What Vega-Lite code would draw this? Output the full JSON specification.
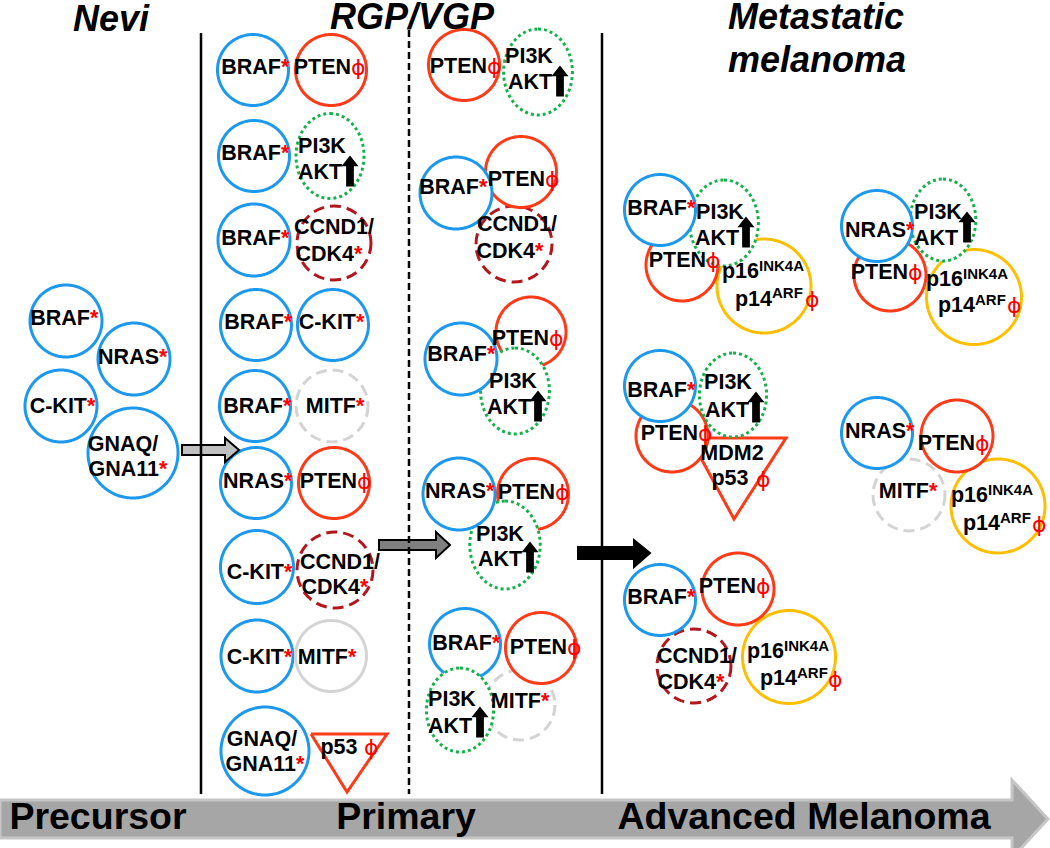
{
  "$schema": "https://vega.github.io/schema/vega-lite/v6.json",
  "width": 1050,
  "height": 848,
  "padding": 0,
  "autosize": "none",
  "background": "white",
  "config": {"view": {"stroke": null}},
  "datasets": {
    "band": [
      {"x": 0, "y": 800, "y2": 838},
      {"x": 1012, "y": 800, "y2": 838},
      {"x": 1012.01, "y": 780, "y2": 858},
      {"x": 1048, "y": 819, "y2": 819}
    ],
    "arrows": [
      {"id": "a1", "kind": "light", "x": 182, "y": 445, "y2": 455},
      {"id": "a1", "kind": "light", "x": 225, "y": 445, "y2": 455},
      {"id": "a1", "kind": "light", "x": 225.01, "y": 438, "y2": 462},
      {"id": "a1", "kind": "light", "x": 239, "y": 450, "y2": 450},
      {"id": "a2", "kind": "dark", "x": 379, "y": 540, "y2": 550},
      {"id": "a2", "kind": "dark", "x": 436, "y": 540, "y2": 550},
      {"id": "a2", "kind": "dark", "x": 436.01, "y": 532, "y2": 558},
      {"id": "a2", "kind": "dark", "x": 450, "y": 545, "y2": 545},
      {"id": "a3", "kind": "black", "x": 578, "y": 547, "y2": 559},
      {"id": "a3", "kind": "black", "x": 634, "y": 547, "y2": 559},
      {"id": "a3", "kind": "black", "x": 634.01, "y": 540, "y2": 567},
      {"id": "a3", "kind": "black", "x": 650, "y": 553, "y2": 553}
    ],
    "rules": [
      {"x": 201, "y": 33, "y2": 794, "kind": "solid"},
      {"x": 409, "y": 30, "y2": 794, "kind": "dash"},
      {"x": 602, "y": 33, "y2": 794, "kind": "solid"}
    ],
    "tris": [
      {"id": "t1", "i": 1, "x": 311, "y": 734},
      {"id": "t1", "i": 2, "x": 387, "y": 734},
      {"id": "t1", "i": 3, "x": 347, "y": 792},
      {"id": "t1", "i": 4, "x": 311, "y": 734},
      {"id": "t2", "i": 1, "x": 690, "y": 438},
      {"id": "t2", "i": 2, "x": 786, "y": 438},
      {"id": "t2", "i": 3, "x": 734, "y": 519},
      {"id": "t2", "i": 4, "x": 690, "y": 438}
    ],
    "circles": [
      {"x": 66, "y": 321, "d": 72, "kind": "blue", "shape": "circle", "z": 1},
      {"x": 134, "y": 359, "d": 72, "kind": "blue", "shape": "circle", "z": 1},
      {"x": 61, "y": 406, "d": 72, "kind": "blue", "shape": "circle", "z": 1},
      {"x": 133, "y": 453, "d": 90, "kind": "blue", "shape": "circle", "z": 1},
      {"x": 253, "y": 70, "d": 71, "kind": "blue", "shape": "circle", "z": 1},
      {"x": 331, "y": 70, "d": 71, "kind": "red", "shape": "circle", "z": 1},
      {"x": 254, "y": 156, "d": 71, "kind": "blue", "shape": "circle", "z": 1},
      {"x": 330, "y": 156, "d": 85, "kind": "green", "shape": "ellipse", "z": 1},
      {"x": 254, "y": 240, "d": 72, "kind": "blue", "shape": "circle", "z": 1},
      {"x": 334, "y": 243, "d": 74, "kind": "ccnd", "shape": "circle", "z": 1},
      {"x": 256, "y": 325, "d": 71, "kind": "blue", "shape": "circle", "z": 1},
      {"x": 333, "y": 325, "d": 71, "kind": "blue", "shape": "circle", "z": 1},
      {"x": 255, "y": 406, "d": 71, "kind": "blue", "shape": "circle", "z": 1},
      {"x": 332, "y": 406, "d": 72, "kind": "mitfdash", "shape": "circle", "z": 1},
      {"x": 256, "y": 483, "d": 71, "kind": "blue", "shape": "circle", "z": 1},
      {"x": 334, "y": 483, "d": 71, "kind": "red", "shape": "circle", "z": 1},
      {"x": 257, "y": 567, "d": 73, "kind": "blue", "shape": "circle", "z": 1},
      {"x": 335, "y": 570, "d": 76, "kind": "ccnd", "shape": "circle", "z": 1},
      {"x": 257, "y": 656, "d": 72, "kind": "blue", "shape": "circle", "z": 1},
      {"x": 331, "y": 656, "d": 71, "kind": "mitf", "shape": "circle", "z": 1},
      {"x": 265, "y": 751, "d": 88, "kind": "blue", "shape": "circle", "z": 1},
      {"x": 464, "y": 65, "d": 71, "kind": "red", "shape": "circle", "z": 1},
      {"x": 538, "y": 72, "d": 86, "kind": "green", "shape": "ellipse", "z": 1},
      {"x": 514, "y": 244, "d": 76, "kind": "ccnd", "shape": "circle", "z": 1},
      {"x": 521, "y": 172, "d": 71, "kind": "red", "shape": "circle", "z": 2},
      {"x": 456, "y": 193, "d": 72, "kind": "blue", "shape": "circle", "z": 3},
      {"x": 531, "y": 332, "d": 70, "kind": "red", "shape": "circle", "z": 1},
      {"x": 515, "y": 391, "d": 86, "kind": "green", "shape": "ellipse", "z": 2},
      {"x": 461, "y": 359, "d": 72, "kind": "blue", "shape": "circle", "z": 3},
      {"x": 533, "y": 494, "d": 71, "kind": "red", "shape": "circle", "z": 1},
      {"x": 505, "y": 545, "d": 88, "kind": "green", "shape": "ellipse", "z": 2},
      {"x": 459, "y": 494, "d": 72, "kind": "blue", "shape": "circle", "z": 3},
      {"x": 520, "y": 705, "d": 70, "kind": "mitfdash", "shape": "circle", "z": 1},
      {"x": 465, "y": 644, "d": 71, "kind": "blue", "shape": "circle", "z": 2},
      {"x": 541, "y": 648, "d": 71, "kind": "red", "shape": "circle", "z": 2},
      {"x": 460, "y": 710, "d": 84, "kind": "green", "shape": "ellipse", "z": 3},
      {"x": 764, "y": 286, "d": 94, "kind": "orange", "shape": "circle", "z": 1},
      {"x": 682, "y": 265, "d": 72, "kind": "red", "shape": "circle", "z": 2},
      {"x": 724, "y": 223, "d": 86, "kind": "green", "shape": "ellipse", "z": 3},
      {"x": 660, "y": 210, "d": 71, "kind": "blue", "shape": "circle", "z": 4},
      {"x": 974, "y": 297, "d": 95, "kind": "orange", "shape": "circle", "z": 1},
      {"x": 890, "y": 275, "d": 72, "kind": "red", "shape": "circle", "z": 2},
      {"x": 943, "y": 220, "d": 82, "kind": "green", "shape": "ellipse", "z": 3},
      {"x": 877, "y": 226, "d": 71, "kind": "blue", "shape": "circle", "z": 4},
      {"x": 672, "y": 436, "d": 72, "kind": "red", "shape": "circle", "z": 2},
      {"x": 733, "y": 395, "d": 84, "kind": "green", "shape": "ellipse", "z": 3},
      {"x": 660, "y": 386, "d": 71, "kind": "blue", "shape": "circle", "z": 4},
      {"x": 909, "y": 495, "d": 72, "kind": "mitfdash", "shape": "circle", "z": 1},
      {"x": 998, "y": 506, "d": 94, "kind": "orange", "shape": "circle", "z": 2},
      {"x": 957, "y": 436, "d": 72, "kind": "red", "shape": "circle", "z": 3},
      {"x": 877, "y": 433, "d": 71, "kind": "blue", "shape": "circle", "z": 4},
      {"x": 694, "y": 666, "d": 74, "kind": "ccnd", "shape": "circle", "z": 1},
      {"x": 789, "y": 657, "d": 93, "kind": "orange", "shape": "circle", "z": 2},
      {"x": 738, "y": 589, "d": 72, "kind": "red", "shape": "circle", "z": 3},
      {"x": 660, "y": 600, "d": 71, "kind": "blue", "shape": "circle", "z": 4}
    ],
    "ups": [
      {"x": 350, "y": 171}, {"x": 560, "y": 81}, {"x": 538, "y": 406},
      {"x": 530, "y": 557}, {"x": 480, "y": 722}, {"x": 746, "y": 232},
      {"x": 967, "y": 227}, {"x": 756, "y": 407}
    ],
    "labels": [
      {"role": "main", "t": "BRAF", "x": 90, "y": 319}, {"role": "star", "t": "*", "x": 90, "y": 319},
      {"role": "main", "t": "NRAS", "x": 159, "y": 358}, {"role": "star", "t": "*", "x": 159, "y": 358},
      {"role": "main", "t": "C-KIT", "x": 87, "y": 407}, {"role": "star", "t": "*", "x": 87, "y": 407},
      {"role": "center", "t": "GNAQ/", "x": 123, "y": 445},
      {"role": "main", "t": "GNA11", "x": 159, "y": 470}, {"role": "star", "t": "*", "x": 159, "y": 470},

      {"role": "main", "t": "BRAF", "x": 281, "y": 68}, {"role": "star", "t": "*", "x": 281, "y": 68},
      {"role": "main", "t": "PTEN", "x": 351, "y": 68}, {"role": "phi", "t": "ϕ", "x": 351, "y": 68},
      {"role": "main", "t": "BRAF", "x": 281, "y": 154}, {"role": "star", "t": "*", "x": 281, "y": 154},
      {"role": "center", "t": "PI3K", "x": 322, "y": 147}, {"role": "center", "t": "AKT", "x": 320, "y": 173},
      {"role": "main", "t": "BRAF", "x": 281, "y": 239}, {"role": "star", "t": "*", "x": 281, "y": 239},
      {"role": "center", "t": "CCND1/", "x": 334, "y": 228},
      {"role": "main", "t": "CDK4", "x": 354, "y": 255}, {"role": "star", "t": "*", "x": 354, "y": 255},
      {"role": "main", "t": "BRAF", "x": 284, "y": 323}, {"role": "star", "t": "*", "x": 284, "y": 323},
      {"role": "main", "t": "C-KIT", "x": 356, "y": 323}, {"role": "star", "t": "*", "x": 356, "y": 323},
      {"role": "main", "t": "BRAF", "x": 283, "y": 407}, {"role": "star", "t": "*", "x": 283, "y": 407},
      {"role": "main", "t": "MITF", "x": 356, "y": 407}, {"role": "star", "t": "*", "x": 356, "y": 407},
      {"role": "main", "t": "NRAS", "x": 284, "y": 482}, {"role": "star", "t": "*", "x": 284, "y": 482},
      {"role": "main", "t": "PTEN", "x": 357, "y": 482}, {"role": "phi", "t": "ϕ", "x": 357, "y": 482},
      {"role": "main", "t": "C-KIT", "x": 284, "y": 573}, {"role": "star", "t": "*", "x": 284, "y": 573},
      {"role": "center", "t": "CCND1/", "x": 340, "y": 563},
      {"role": "main", "t": "CDK4", "x": 360, "y": 588}, {"role": "star", "t": "*", "x": 360, "y": 588},
      {"role": "main", "t": "C-KIT", "x": 284, "y": 658}, {"role": "star", "t": "*", "x": 284, "y": 658},
      {"role": "main", "t": "MITF", "x": 348, "y": 658}, {"role": "star", "t": "*", "x": 348, "y": 658},
      {"role": "center", "t": "GNAQ/", "x": 262, "y": 740},
      {"role": "main", "t": "GNA11", "x": 296, "y": 765}, {"role": "star", "t": "*", "x": 296, "y": 765},
      {"role": "center", "t": "p53", "x": 339, "y": 748}, {"role": "phi", "t": "ϕ", "x": 364, "y": 748},

      {"role": "main", "t": "PTEN", "x": 487, "y": 67}, {"role": "phi", "t": "ϕ", "x": 487, "y": 67},
      {"role": "center", "t": "PI3K", "x": 529, "y": 57}, {"role": "center", "t": "AKT", "x": 530, "y": 83},
      {"role": "main", "t": "BRAF", "x": 479, "y": 188}, {"role": "star", "t": "*", "x": 479, "y": 188},
      {"role": "main", "t": "PTEN", "x": 545, "y": 180}, {"role": "phi", "t": "ϕ", "x": 545, "y": 180},
      {"role": "center", "t": "CCND1/", "x": 517, "y": 225},
      {"role": "main", "t": "CDK4", "x": 535, "y": 252}, {"role": "star", "t": "*", "x": 535, "y": 252},
      {"role": "main", "t": "BRAF", "x": 487, "y": 355}, {"role": "star", "t": "*", "x": 487, "y": 355},
      {"role": "main", "t": "PTEN", "x": 549, "y": 339}, {"role": "phi", "t": "ϕ", "x": 549, "y": 339},
      {"role": "center", "t": "PI3K", "x": 513, "y": 382}, {"role": "center", "t": "AKT", "x": 509, "y": 408},
      {"role": "main", "t": "NRAS", "x": 486, "y": 492}, {"role": "star", "t": "*", "x": 486, "y": 492},
      {"role": "main", "t": "PTEN", "x": 555, "y": 493}, {"role": "phi", "t": "ϕ", "x": 555, "y": 493},
      {"role": "center", "t": "PI3K", "x": 500, "y": 535}, {"role": "center", "t": "AKT", "x": 500, "y": 560},
      {"role": "main", "t": "BRAF", "x": 492, "y": 644}, {"role": "star", "t": "*", "x": 492, "y": 644},
      {"role": "main", "t": "PTEN", "x": 567, "y": 648}, {"role": "phi", "t": "ϕ", "x": 567, "y": 648},
      {"role": "center", "t": "PI3K", "x": 452, "y": 700}, {"role": "center", "t": "AKT", "x": 450, "y": 727},
      {"role": "main", "t": "MITF", "x": 541, "y": 702}, {"role": "star", "t": "*", "x": 541, "y": 702},

      {"role": "main", "t": "BRAF", "x": 687, "y": 209}, {"role": "star", "t": "*", "x": 687, "y": 209},
      {"role": "center", "t": "PI3K", "x": 720, "y": 213}, {"role": "center", "t": "AKT", "x": 717, "y": 239},
      {"role": "main", "t": "PTEN", "x": 706, "y": 261}, {"role": "phi", "t": "ϕ", "x": 706, "y": 261},
      {"role": "main", "t": "p16", "x": 759, "y": 272}, {"role": "sup", "t": "INK4A", "x": 759, "y": 266},
      {"role": "main", "t": "p14", "x": 772, "y": 300}, {"role": "sup", "t": "ARF", "x": 772, "y": 293},
      {"role": "phi", "t": "ϕ", "x": 805, "y": 300},

      {"role": "main", "t": "NRAS", "x": 906, "y": 231}, {"role": "star", "t": "*", "x": 906, "y": 231},
      {"role": "center", "t": "PI3K", "x": 938, "y": 213}, {"role": "center", "t": "AKT", "x": 936, "y": 239},
      {"role": "main", "t": "PTEN", "x": 908, "y": 273}, {"role": "phi", "t": "ϕ", "x": 908, "y": 273},
      {"role": "main", "t": "p16", "x": 963, "y": 280}, {"role": "sup", "t": "INK4A", "x": 963, "y": 274},
      {"role": "main", "t": "p14", "x": 975, "y": 306}, {"role": "sup", "t": "ARF", "x": 975, "y": 300},
      {"role": "phi", "t": "ϕ", "x": 1007, "y": 306},

      {"role": "main", "t": "BRAF", "x": 687, "y": 391}, {"role": "star", "t": "*", "x": 687, "y": 391},
      {"role": "center", "t": "PI3K", "x": 728, "y": 383}, {"role": "center", "t": "AKT", "x": 727, "y": 411},
      {"role": "main", "t": "PTEN", "x": 698, "y": 434}, {"role": "phi", "t": "ϕ", "x": 698, "y": 434},
      {"role": "center", "t": "MDM2", "x": 732, "y": 454},
      {"role": "center", "t": "p53", "x": 730, "y": 479}, {"role": "phi", "t": "ϕ", "x": 756, "y": 480},

      {"role": "main", "t": "NRAS", "x": 906, "y": 432}, {"role": "star", "t": "*", "x": 906, "y": 432},
      {"role": "main", "t": "PTEN", "x": 975, "y": 444}, {"role": "phi", "t": "ϕ", "x": 975, "y": 444},
      {"role": "main", "t": "MITF", "x": 929, "y": 492}, {"role": "star", "t": "*", "x": 929, "y": 492},
      {"role": "main", "t": "p16", "x": 988, "y": 496}, {"role": "sup", "t": "INK4A", "x": 988, "y": 490},
      {"role": "main", "t": "p14", "x": 1000, "y": 524}, {"role": "sup", "t": "ARF", "x": 1000, "y": 518},
      {"role": "phi", "t": "ϕ", "x": 1032, "y": 525},

      {"role": "main", "t": "BRAF", "x": 687, "y": 598}, {"role": "star", "t": "*", "x": 687, "y": 598},
      {"role": "main", "t": "PTEN", "x": 756, "y": 587}, {"role": "phi", "t": "ϕ", "x": 756, "y": 587},
      {"role": "center", "t": "CCND1/", "x": 697, "y": 657},
      {"role": "main", "t": "CDK4", "x": 716, "y": 683}, {"role": "star", "t": "*", "x": 716, "y": 683},
      {"role": "main", "t": "p16", "x": 784, "y": 652}, {"role": "sup", "t": "INK4A", "x": 784, "y": 646},
      {"role": "main", "t": "p14", "x": 797, "y": 679}, {"role": "sup", "t": "ARF", "x": 797, "y": 673},
      {"role": "phi", "t": "ϕ", "x": 828, "y": 680},

      {"role": "head", "t": "Nevi", "x": 111, "y": 20},
      {"role": "head", "t": "RGP/VGP", "x": 412, "y": 18},
      {"role": "head", "t": "Metastatic", "x": 816, "y": 18},
      {"role": "head", "t": "melanoma", "x": 817, "y": 61},

      {"role": "stage", "t": "Precursor", "x": 98, "y": 818},
      {"role": "stage", "t": "Primary", "x": 406, "y": 818},
      {"role": "stage", "t": "Advanced Melanoma", "x": 804, "y": 818}
    ]
  },
  "encoding": {
    "x": {"field": "x", "type": "quantitative", "scale": {"domain": [0, 1050], "nice": false, "zero": false}, "axis": null},
    "y": {"field": "y", "type": "quantitative", "scale": {"domain": [0, 848], "nice": false, "zero": false, "reverse": true}, "axis": null}
  },
  "layer": [
    {
      "data": {"name": "band"},
      "mark": {"type": "area", "fill": "#a6a6a6", "stroke": "#c6c6c6", "strokeWidth": 3, "strokeJoin": "miter"},
      "encoding": {
        "y": {"field": "y", "type": "quantitative", "stack": null},
        "y2": {"field": "y2"}
      }
    },
    {
      "data": {"name": "tris"},
      "mark": {"type": "line", "stroke": "#ff3a17", "strokeWidth": 3, "strokeJoin": "miter", "interpolate": "linear"},
      "encoding": {
        "detail": {"field": "id"},
        "order": {"field": "i", "type": "quantitative"}
      }
    },
    {
      "data": {"name": "circles"},
      "mark": {"type": "point", "filled": true, "fill": "white", "fillOpacity": 1, "opacity": 1, "strokeWidth": 3, "strokeOpacity": 1},
      "encoding": {
        "size": {"field": "d", "type": "quantitative", "scale": {"type": "pow", "exponent": 2, "domain": [0, 100], "range": [0, 10000]}, "legend": null},
        "shape": {"field": "shape", "type": "nominal", "scale": {"domain": ["circle", "ellipse"], "range": ["circle", "M0,-1C0.442,-1,0.8,-0.552,0.8,0C0.8,0.552,0.442,1,0,1C-0.442,1,-0.8,0.552,-0.8,0C-0.8,-0.552,-0.442,-1,0,-1Z"]}, "legend": null},
        "stroke": {"field": "kind", "type": "nominal", "scale": {"domain": ["blue", "red", "green", "ccnd", "mitfdash", "mitf", "orange"], "range": ["#1c99ee", "#ff3a17", "#16b14c", "#b3161c", "#d4d4d4", "#d4d4d4", "#ffbf00"]}, "legend": null},
        "strokeDash": {"field": "kind", "type": "nominal", "scale": {"domain": ["blue", "red", "green", "ccnd", "mitfdash", "mitf", "orange"], "range": [[1, 0], [1, 0], [3, 3], [11, 6], [11, 6], [1, 0], [1, 0]]}, "legend": null},
        "order": {"field": "z", "type": "quantitative"}
      }
    },
    {
      "data": {"name": "arrows"},
      "mark": {"type": "area", "stroke": "black", "strokeWidth": 2, "strokeJoin": "miter"},
      "encoding": {
        "y": {"field": "y", "type": "quantitative", "stack": null},
        "y2": {"field": "y2"},
        "detail": {"field": "id"},
        "fill": {"field": "kind", "type": "nominal", "scale": {"domain": ["light", "dark", "black"], "range": ["#c0c0c0", "#808080", "#000000"]}, "legend": null}
      }
    },
    {
      "data": {"name": "rules"},
      "transform": [{"filter": "datum.kind === 'solid'"}],
      "mark": {"type": "rule", "stroke": "black", "strokeWidth": 2.5},
      "encoding": {"y2": {"field": "y2"}}
    },
    {
      "data": {"name": "rules"},
      "transform": [{"filter": "datum.kind === 'dash'"}],
      "mark": {"type": "rule", "stroke": "black", "strokeWidth": 2.5, "strokeDash": [7, 4]},
      "encoding": {"y2": {"field": "y2"}}
    },
    {
      "data": {"name": "ups"},
      "mark": {"type": "point", "shape": "M-0.25,1L0.25,1L0.25,-0.3L0.55,-0.3L0,-1L-0.55,-0.3L-0.25,-0.3Z", "size": 961, "filled": true, "fill": "black", "opacity": 1, "strokeWidth": 0}
    },
    {
      "data": {"name": "labels"},
      "transform": [{"filter": "datum.role === 'main'"}],
      "mark": {"type": "text", "align": "right", "baseline": "middle", "font": "Liberation Sans, Arial, sans-serif", "fontWeight": "bold", "fontSize": 21.5, "fill": "black"},
      "encoding": {"text": {"field": "t"}}
    },
    {
      "data": {"name": "labels"},
      "transform": [{"filter": "datum.role === 'center'"}],
      "mark": {"type": "text", "align": "center", "baseline": "middle", "font": "Liberation Sans, Arial, sans-serif", "fontWeight": "bold", "fontSize": 21.5, "fill": "black"},
      "encoding": {"text": {"field": "t"}}
    },
    {
      "data": {"name": "labels"},
      "transform": [{"filter": "datum.role === 'star'"}],
      "mark": {"type": "text", "align": "left", "baseline": "middle", "font": "Liberation Sans, Arial, sans-serif", "fontWeight": "bold", "fontSize": 21.5, "fill": "#ff0000"},
      "encoding": {"text": {"field": "t"}}
    },
    {
      "data": {"name": "labels"},
      "transform": [{"filter": "datum.role === 'phi'"}],
      "mark": {"type": "text", "align": "left", "baseline": "middle", "font": "DejaVu Sans, Liberation Sans, sans-serif", "fontWeight": "normal", "fontSize": 22, "fill": "#ff0000"},
      "encoding": {"text": {"field": "t"}}
    },
    {
      "data": {"name": "labels"},
      "transform": [{"filter": "datum.role === 'sup'"}],
      "mark": {"type": "text", "align": "left", "baseline": "middle", "font": "Liberation Sans, Arial, sans-serif", "fontWeight": "bold", "fontSize": 15, "fill": "black"},
      "encoding": {"text": {"field": "t"}}
    },
    {
      "data": {"name": "labels"},
      "transform": [{"filter": "datum.role === 'head'"}],
      "mark": {"type": "text", "align": "center", "baseline": "middle", "font": "Liberation Sans, Arial, sans-serif", "fontWeight": "bold", "fontStyle": "italic", "fontSize": 36, "fill": "black"},
      "encoding": {"text": {"field": "t"}}
    },
    {
      "data": {"name": "labels"},
      "transform": [{"filter": "datum.role === 'stage'"}],
      "mark": {"type": "text", "align": "center", "baseline": "middle", "font": "Liberation Sans, Arial, sans-serif", "fontWeight": "bold", "fontSize": 37.5, "fill": "black"},
      "encoding": {"text": {"field": "t"}}
    }
  ]
}
